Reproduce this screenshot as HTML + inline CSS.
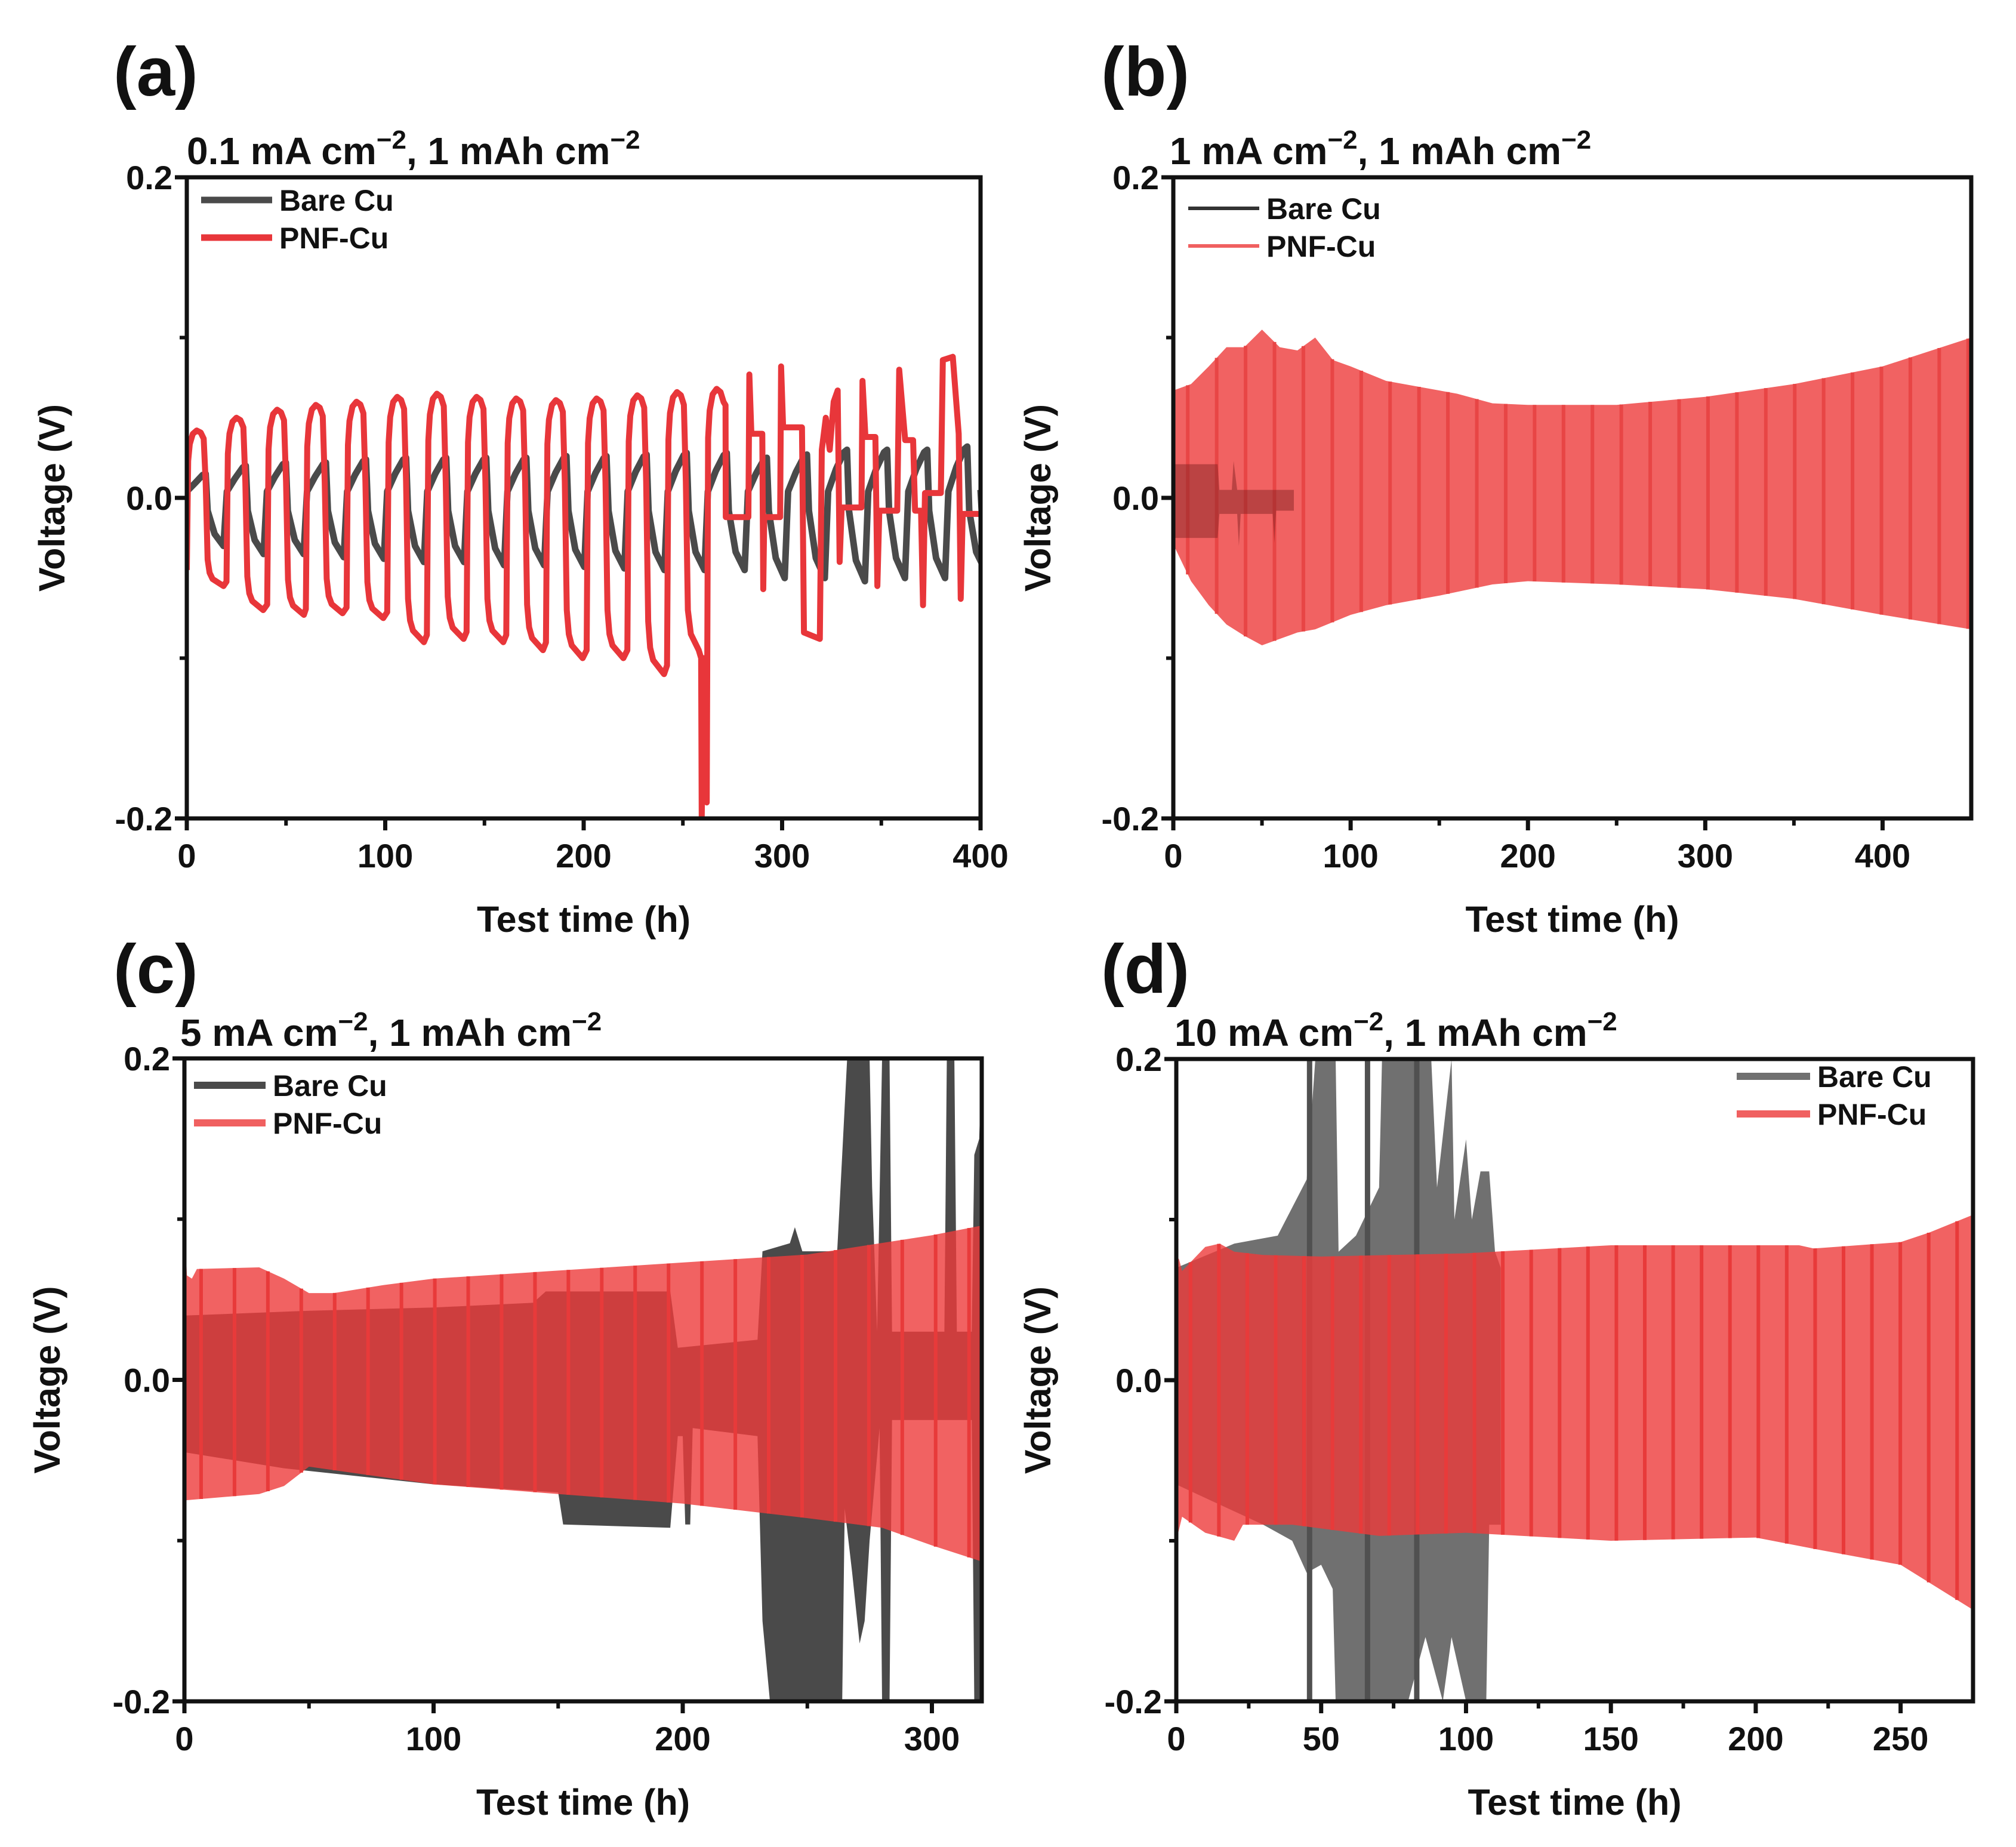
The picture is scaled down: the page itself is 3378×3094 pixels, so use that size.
<!DOCTYPE html>
<html><head><meta charset="utf-8"><style>
html,body{margin:0;padding:0;background:#fff}
svg{display:block}
text{font-family:"Liberation Sans",Arial,sans-serif;font-weight:bold;fill:#111}
</style></head><body>
<svg id="fig" width="3378" height="3094" viewBox="0 0 3378 3094" xmlns="http://www.w3.org/2000/svg"></svg>
<script>
// ---------- DATA ----------
const yTickLabels = ["-0.2","0.0","0.2"];
const yTickValues = [-0.2,0,0.2];
const aXTicks = [0,100,200,300,400];
const bXTicks = [0,100,200,300,400];
const cXTicks = [0,100,200,300];
const dXTicks = [0,50,100,150,200,250];

// panel a: PNF-Cu cycles
const aPeakT = [5,25,45.5,65,85.5,106,126,146,166,186,206.5,227,247,267];
const aPeakV = [0.042,0.05,0.055,0.058,0.06,0.063,0.065,0.063,0.062,0.061,0.062,0.064,0.066,0.068];
const aTroughV = [-0.055,-0.07,-0.073,-0.072,-0.075,-0.09,-0.088,-0.09,-0.095,-0.1,-0.1,-0.11,-0.2];
const aTailT = [271.6,283,283.5,284.5,290,290.5,291,299,299.5,300.5,310,311,319,320,322,324,326,328,329,330,340,340.5,342,347,348,349,358,359,362,366,367,370,371,372,380,381,386,389,390,391,400];
const aTailV = [-0.012,-0.012,0.077,0.04,0.04,-0.057,-0.012,-0.012,0.082,0.044,0.044,-0.084,-0.088,0.03,0.05,0.03,0.06,0.067,-0.04,-0.006,-0.006,0.073,0.038,0.038,-0.055,-0.008,-0.008,0.08,0.036,0.036,-0.008,-0.008,-0.067,0.003,0.003,0.086,0.088,0.04,-0.063,-0.01,-0.01];
// panel a: Bare Cu cycles
const aBarePeak = [0.015,0.02,0.022,0.022,0.024,0.025,0.025,0.025,0.025,0.026,0.026,0.027,0.028,0.028,0.025,0.027,0.03,0.03,0.03,0.032];
const aBareTrough = [-0.03,-0.035,-0.035,-0.037,-0.038,-0.04,-0.04,-0.042,-0.042,-0.043,-0.044,-0.045,-0.045,-0.045,-0.05,-0.05,-0.052,-0.05,-0.05,-0.045];

// panel b
const bUpT = [0,10,20,30,40,50,60,70,80,90,100,120,140,160,180,200,250,300,350,400,450];
const bUpV = [0.067,0.071,0.082,0.094,0.094,0.105,0.094,0.092,0.1,0.086,0.082,0.073,0.069,0.065,0.059,0.058,0.058,0.063,0.071,0.082,0.1];
const bLoT = [0,10,20,30,40,50,60,70,80,100,120,150,180,200,250,300,350,400,450];
const bLoV = [-0.029,-0.052,-0.067,-0.079,-0.086,-0.092,-0.088,-0.084,-0.082,-0.073,-0.067,-0.061,-0.054,-0.052,-0.054,-0.057,-0.063,-0.073,-0.082];
const bBareUpT = [0,25,26,33,34,36,68];
const bBareUpV = [0.021,0.021,0.005,0.005,0.023,0.005,0.005];
const bBareLoT = [0,25,26,36,37,38,56,57,58,68];
const bBareLoV = [-0.025,-0.025,-0.01,-0.01,-0.03,-0.01,-0.01,-0.028,-0.008,-0.008];

// panel c
const cUpT = [0,1,3,5,30,40,50,60,80,100,150,200,250,300,320];
const cUpV = [0.1,0.065,0.063,0.069,0.07,0.063,0.054,0.054,0.059,0.063,0.068,0.073,0.078,0.09,0.096];
const cLoT = [0,30,40,50,100,150,200,250,280,300,320];
const cLoV = [-0.075,-0.071,-0.066,-0.054,-0.065,-0.071,-0.077,-0.086,-0.092,-0.103,-0.113];
const cBareUpT = [0,50,100,140,145,195,198,230,232,243,245,248,262,264,266,275,276,278,280,283,284,305,306,309,310,316,317,319,320];
const cBareUpV = [0.04,0.043,0.045,0.048,0.055,0.055,0.02,0.025,0.08,0.085,0.095,0.08,0.08,0.14,0.2,0.2,0.12,0.03,0.2,0.2,0.03,0.03,0.2,0.2,0.03,0.03,0.14,0.15,0.2];
const cBareLoT = [0,40,100,150,152,195,198,200,201,203,204,230,232,235,264,265,268,271,273,275,279,280,283,284,316,317,320];
const cBareLoV = [-0.045,-0.055,-0.065,-0.07,-0.09,-0.092,-0.035,-0.035,-0.09,-0.09,-0.03,-0.035,-0.15,-0.2,-0.2,-0.08,-0.12,-0.164,-0.15,-0.1,-0.03,-0.2,-0.2,-0.025,-0.025,-0.2,-0.2];

// panel d
const dUpT = [0,1,2,10,15,20,30,50,100,120,150,200,215,220,250,260,275];
const dUpV = [0.078,0.075,0.068,0.083,0.085,0.08,0.078,0.077,0.079,0.081,0.084,0.084,0.084,0.082,0.086,0.092,0.103];
const dLoT = [0,2,10,20,23,40,70,100,150,200,220,250,275];
const dLoV = [-0.1,-0.085,-0.095,-0.1,-0.09,-0.09,-0.097,-0.095,-0.1,-0.098,-0.105,-0.115,-0.143];
const dBareUpT = [0,20,35,45,48,55,56,62,70,71,88,90,95,96,100,102,105,108,110,112];
const dBareUpV = [0.07,0.085,0.09,0.125,0.2,0.2,0.08,0.09,0.12,0.2,0.2,0.12,0.2,0.1,0.15,0.1,0.13,0.13,0.08,0.07];
const dBareLoT = [0,30,40,45,50,54,55,80,86,92,95,100,107,108,112];
const dBareLoV = [-0.065,-0.09,-0.1,-0.12,-0.115,-0.13,-0.2,-0.2,-0.16,-0.2,-0.16,-0.2,-0.2,-0.09,-0.09];
const dBareSpikesT = [46,66,83];

// ---------- RENDER ----------
const NS = "http://www.w3.org/2000/svg";
const svg = document.getElementById('fig');
function mk(tag, attrs, parent){
  const e = document.createElementNS(NS, tag);
  for (const k in attrs) e.setAttribute(k, attrs[k]);
  (parent||svg).appendChild(e);
  return e;
}
function interp(ts, vs, t){
  if (t<=ts[0]) return vs[0];
  for (let i=1;i<ts.length;i++){ if (t<=ts[i]){ const f=(t-ts[i-1])/(ts[i]-ts[i-1]); return vs[i-1]+f*(vs[i]-vs[i-1]); } }
  return vs[vs.length-1];
}

function makePanel(p){
  const g = mk('g', {});
  
  
  const X = t => p.x0 + (t - 0) / p.xmax * (p.x1 - p.x0);
  const Y = v => p.y1 - (v + 0.2) / 0.4 * (p.y1 - p.y0);
  p.X = X; p.Y = Y;
  const clipId = 'clip-' + p.id;
  const cp = mk('clipPath', {id: clipId}, g);
  mk('rect', {x:p.x0, y:p.y0, width:p.x1-p.x0, height:p.y1-p.y0}, cp);
  const plot = mk('g', {'clip-path':'url(#'+clipId+')'}, g);
  
  
  p.plot = plot;

  const lab = mk('text', {x:p.labX, y:p.labY, 'font-size':116}, g);
  lab.textContent = '(' + p.id + ')';
  
  
  const st = mk('text', {x:p.subX, y:p.subY, 'font-size':64}, g);
  st.innerHTML = p.sub1 + ' cm<tspan dy="-26" font-size="44">−2</tspan><tspan dy="26">, 1 mAh cm</tspan><tspan dy="-26" font-size="44">−2</tspan>';
  
  

  p.drawAxes = function(){
    const fr = mk('rect', {x:p.x0, y:p.y0, width:p.x1-p.x0, height:p.y1-p.y0, fill:'none', stroke:'#111', 'stroke-width':7}, g);
    
    
    p.xTicks.forEach(t=>{
      const tk = mk('line', {x1:X(t), x2:X(t), y1:p.y1, y2:p.y1+20, stroke:'#111', 'stroke-width':7}, g);
      
      
      const tl = mk('text', {x:X(t), y:p.y1+82, 'font-size':56, 'text-anchor':'middle'}, g);
      tl.textContent = t;
      
      
    });
    for (let t=p.minor; t<p.xmax; t+=p.minor*2){
      const mt = mk('line', {x1:X(t), x2:X(t), y1:p.y1, y2:p.y1+12, stroke:'#111', 'stroke-width':6}, g);
      
      
    }
    yTickValues.forEach((v,i)=>{
      const tk = mk('line', {x1:p.x0-20, x2:p.x0, y1:Y(v), y2:Y(v), stroke:'#111', 'stroke-width':7}, g);
      
      
      const tl = mk('text', {x:p.x0-24, y:Y(v)+20, 'font-size':56, 'text-anchor':'end'}, g);
      tl.textContent = yTickLabels[i];
      
      
    });
    [-0.1,0.1].forEach(v=>{
      const mt = mk('line', {x1:p.x0-12, x2:p.x0, y1:Y(v), y2:Y(v), stroke:'#111', 'stroke-width':6}, g);
      
      
    });
    const xt = mk('text', {x:(p.x0+p.x1)/2, y:p.y1+190, 'font-size':61, 'text-anchor':'middle'}, g);
    xt.textContent = 'Test time (h)';
    
    
    const yc = (p.y0+p.y1)/2;
    const yt = mk('text', {x:p.ytX, y:yc, 'font-size':61, 'text-anchor':'middle', transform:'rotate(-90 '+p.ytX+' '+yc+')'}, g);
    yt.textContent = 'Voltage (V)';
    
    
    const lg = mk('g', {}, g);
    
    
    [['Bare Cu', p.bareColor, p.legY1],['PNF-Cu', p.redColor, p.legY2]].forEach(e=>{
      const eg = mk('g', {}, lg);
      
      
      mk('line', {x1:p.legX1, x2:p.legX2, y1:e[2], y2:e[2], stroke:e[1], 'stroke-width':p.legW}, eg);
      const t = mk('text', {x:p.legX2+12, y:e[2]+18, 'font-size':50}, eg);
      t.textContent = e[0];
    });
  };
  return p;
}
function envelope(p, upT, upV, loT, loV, fill, op, name){
  let pts = [];
  upT.forEach((t,i)=>pts.push(p.X(t).toFixed(1)+','+p.Y(upV[i]).toFixed(1)));
  for (let i=loT.length-1;i>=0;i--) pts.push(p.X(loT[i]).toFixed(1)+','+p.Y(loV[i]).toFixed(1));
  const e = mk('polygon', {points:pts.join(' '), fill:fill, 'fill-opacity':op}, p.plot);
  
  
  return e;
}
function stripes(p, upT, upV, loT, loV, period, color, name){
  for (let t=period/2; t<p.xmax; t+=period){
    const l = mk('line', {x1:p.X(t), x2:p.X(t), y1:p.Y(interp(upT,upV,t)), y2:p.Y(interp(loT,loV,t)), stroke:color, 'stroke-width':6}, p.plot);
    
    
  }
}

const RED = '#ee3b3b';
// ---- Panel a
const pa = makePanel({id:'a', x0:313, x1:1643, y0:297, y1:1371, xmax:400, xTicks:aXTicks, minor:50,
  labX:190, labY:160, subX:313, subY:275, sub1:'0.1 mA', ytX:108,
  legX1:337, legX2:456, legY1:335, legY2:398, legW:11, bareColor:'#4a4a4a', redColor:'#e8363a'});
{
  const bt=[], bv=[];
  aBarePeak.forEach((pk,i)=>{
    const s = aPeakT[0]-5 + i*20.2;
    bt.push(s, s+4, s+8, s+9.5, s+10.5, s+14, s+18.5);
    bv.push(0.004, pk*0.6, pk*0.95, pk, -0.008, aBareTrough[i]*0.75, aBareTrough[i]);
  });
  bt.push(400); bv.push(0.005);
  const bare = mk('polyline', {points:bt.map((t,i)=>pa.X(t).toFixed(1)+','+pa.Y(bv[i]).toFixed(1)).join(' '), fill:'none', stroke:'#4a4a4a', 'stroke-width':11, 'stroke-linejoin':'round'}, pa.plot);
  
  
  const rt=[0], rv=[-0.045];
  aPeakT.forEach((pt,i)=>{
    const prevTr = i===0 ? -0.045 : aTroughV[i-1];
    const s = pt - 5;
    if (i>0){ rt.push(s); rv.push(prevTr*0.95); }
    rt.push(s+0.7, s+1.5, s+3, s+5, s+7, s+8.5);
    rv.push(aPeakV[i]*0.55, aPeakV[i]*0.8, aPeakV[i]*0.95, aPeakV[i], aPeakV[i]*0.97, aPeakV[i]*0.88);
    if (i < aTroughV.length){
      const tr = aTroughV[i];
      if (tr < -0.15){ rt.push(s+9.5, s+10.5, s+12, s+16, s+17.2, s+17.5, s+18.5); rv.push(0.01, -0.07, -0.085, -0.095, -0.1, tr, -0.1); }
      else { rt.push(s+9.5, s+10.5, s+11.5, s+13, s+18.5); rv.push(0.01, tr*0.7, tr*0.85, tr*0.92, tr); }
    } else { rt.push(s+9.5); rv.push(aPeakV[i]*0.85); }
  });
  aTailT.forEach((t,i)=>{ rt.push(t); rv.push(aTailV[i]); });
  const red = mk('polyline', {points:rt.map((t,i)=>pa.X(t).toFixed(1)+','+pa.Y(rv[i]).toFixed(1)).join(' '), fill:'none', stroke:'#e8363a', 'stroke-width':10, 'stroke-linejoin':'round'}, pa.plot);
  
  
}
pa.drawAxes();

// ---- Panel b
const pb = makePanel({id:'b', x0:1966, x1:3303, y0:297, y1:1371, xmax:450, xTicks:bXTicks, minor:50,
  labX:1845, labY:160, subX:1960, subY:275, sub1:'1 mA', ytX:1760,
  legX1:1991, legX2:2110, legY1:349, legY2:412, legW:6, bareColor:'#333', redColor:'#f06060'});
envelope(pb, bUpT, bUpV, bLoT, bLoV, RED, 0.8, 'pnf-cu-band-b');
stripes(pb, bUpT, bUpV, bLoT, bLoV, 16.3, '#e84545', 'pnf-cu-cycle-line-b');
envelope(pb, bBareUpT, bBareUpV, bBareLoT, bBareLoV, '#7a2020', 0.45, 'bare-cu-band-b');
pb.drawAxes();

// ---- Panel c
const pc = makePanel({id:'c', x0:309, x1:1645, y0:1773, y1:2850, xmax:320, xTicks:cXTicks, minor:50,
  labX:190, labY:1663, subX:302, subY:1752, sub1:'5 mA', ytX:100,
  legX1:325, legX2:445, legY1:1818, legY2:1881, legW:12, bareColor:'#4a4a4a', redColor:'#f06060'});
envelope(pc, cBareUpT, cBareUpV, cBareLoT, cBareLoV, '#4a4a4a', 1, 'bare-cu-band-c');
envelope(pc, cUpT, cUpV, cLoT, cLoV, RED, 0.8, 'pnf-cu-band-c');
stripes(pc, cUpT, cUpV, cLoT, cLoV, 13.4, '#e83a3a', 'pnf-cu-cycle-line-c');
pc.drawAxes();

// ---- Panel d
const pd = makePanel({id:'d', x0:1971, x1:3306, y0:1774, y1:2850, xmax:275, xTicks:dXTicks, minor:25,
  labX:1845, labY:1663, subX:1968, subY:1752, sub1:'10 mA', ytX:1760,
  legX1:2910, legX2:3033, legY1:1803, legY2:1866, legW:12, bareColor:'#707070', redColor:'#f06060'});
envelope(pd, dBareUpT, dBareUpV, dBareLoT, dBareLoV, '#707070', 1, 'bare-cu-band-d');
dBareSpikesT.forEach(t=>{
  const l = mk('line', {x1:pd.X(t), x2:pd.X(t), y1:pd.Y(0.2), y2:pd.Y(-0.2), stroke:'#505050', 'stroke-width':9}, pd.plot);
  
  
});
envelope(pd, dUpT, dUpV, dLoT, dLoV, RED, 0.8, 'pnf-cu-band-d');
stripes(pd, dUpT, dUpV, dLoT, dLoV, 9.8, '#e83a3a', 'pnf-cu-cycle-line-d');
pd.drawAxes();
</script>
</body></html>
